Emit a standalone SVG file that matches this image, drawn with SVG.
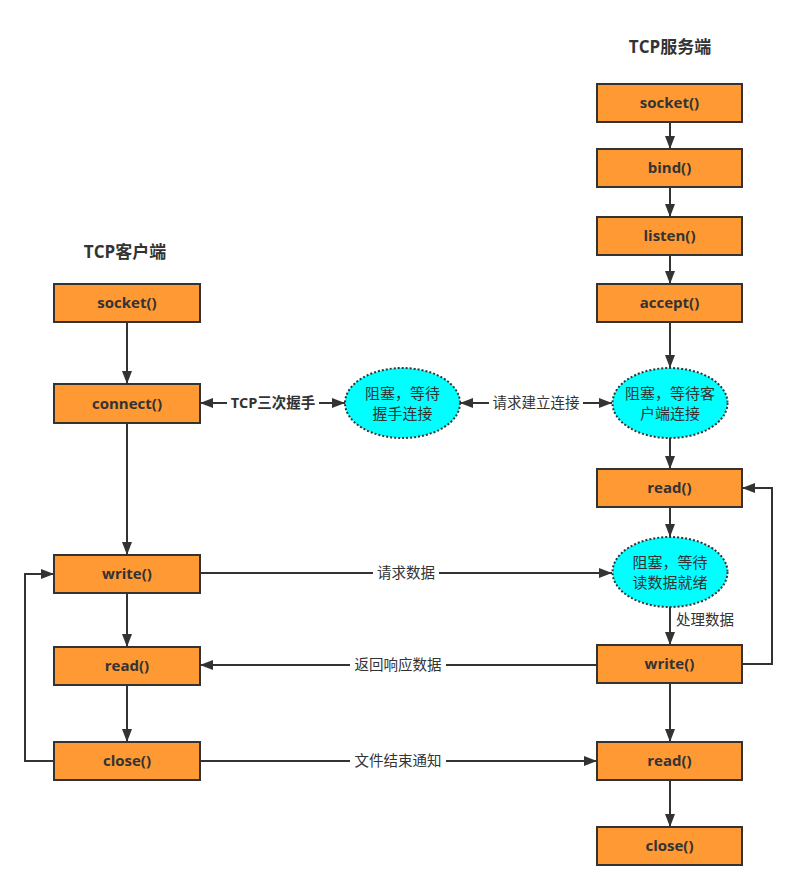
<svg xmlns="http://www.w3.org/2000/svg" width="797" height="890" viewBox="0 0 797 890">
<style>
.box{fill:#FF9933;stroke:#333;stroke-width:2}
.ell{fill:#00FFFF;stroke:#333;stroke-width:2;stroke-dasharray:2 2}
.bt{font-family:"Open Sans","Noto Sans CJK SC",sans-serif;font-weight:bold;font-size:15px;fill:#333;text-anchor:middle}
.title{font-family:"Open Sans","Noto Sans CJK SC",sans-serif;font-weight:bold;font-size:17px;fill:#333;text-anchor:middle}
.et{font-family:"Noto Sans CJK SC",sans-serif;font-size:15px;fill:#333;text-anchor:middle}
.lb{font-family:"Noto Sans CJK SC",sans-serif;font-size:14.5px;fill:#333;text-anchor:middle}
.lbb{font-family:"Open Sans","Noto Sans CJK SC",sans-serif;font-weight:bold;font-size:14.5px;fill:#333;text-anchor:middle}
.c{fill:none;stroke:#333;stroke-width:2}
.bg{fill:#fff}
</style>
<defs>
<marker id="ah" markerUnits="userSpaceOnUse" markerWidth="13" markerHeight="10" refX="13" refY="5" orient="auto-start-reverse">
<path d="M0,0 L13,5 L0,10 z" fill="#333"/>
</marker>
</defs>
<rect width="797" height="890" fill="#fff"/>
<text class="title" x="670" y="53">TCP服务端</text>
<text class="title" x="125" y="258">TCP客户端</text>
<g id="connectors">
<line class="c" x1="670" y1="122" x2="670" y2="149" marker-end="url(#ah)"/>
<line class="c" x1="670" y1="187" x2="670" y2="217" marker-end="url(#ah)"/>
<line class="c" x1="670" y1="255" x2="670" y2="284" marker-end="url(#ah)"/>
<line class="c" x1="670" y1="322" x2="670" y2="368" marker-end="url(#ah)"/>
<line class="c" x1="670" y1="438" x2="670" y2="469" marker-end="url(#ah)"/>
<line class="c" x1="670" y1="507" x2="670" y2="537" marker-end="url(#ah)"/>
<line class="c" x1="670" y1="607" x2="670" y2="645" marker-end="url(#ah)"/>
<line class="c" x1="670" y1="683" x2="670" y2="742" marker-end="url(#ah)"/>
<line class="c" x1="670" y1="780" x2="670" y2="827" marker-end="url(#ah)"/>
<polyline class="c" points="742,664 772,664 772,488 742,488" marker-end="url(#ah)"/>
<line class="c" x1="127" y1="322" x2="127" y2="384" marker-end="url(#ah)"/>
<line class="c" x1="127" y1="423" x2="127" y2="555" marker-end="url(#ah)"/>
<line class="c" x1="127" y1="593" x2="127" y2="647" marker-end="url(#ah)"/>
<line class="c" x1="127" y1="685" x2="127" y2="742" marker-end="url(#ah)"/>
<polyline class="c" points="54,761 25,761 25,574 54,574" marker-end="url(#ah)"/>
<line class="c" x1="200" y1="403" x2="345" y2="403" marker-start="url(#ah)" marker-end="url(#ah)"/>
<line class="c" x1="460" y1="403" x2="612" y2="403" marker-start="url(#ah)" marker-end="url(#ah)"/>
<line class="c" x1="200" y1="573" x2="612" y2="573" marker-end="url(#ah)"/>
<line class="c" x1="597" y1="665" x2="200" y2="665" marker-end="url(#ah)"/>
<line class="c" x1="200" y1="761" x2="597" y2="761" marker-end="url(#ah)"/>
<rect class="bg" x="227" y="393" width="92" height="20"/>
<text class="lbb" x="273" y="408">TCP三次握手</text>
<rect class="bg" x="489" y="393" width="94" height="20"/>
<text class="lb" x="536" y="408">请求建立连接</text>
<rect class="bg" x="373" y="563" width="66" height="20"/>
<text class="lb" x="406" y="578">请求数据</text>
<rect class="bg" x="350" y="655" width="96" height="20"/>
<text class="lb" x="398" y="670">返回响应数据</text>
<rect class="bg" x="350" y="751" width="96" height="20"/>
<text class="lb" x="398" y="766">文件结束通知</text>
<text class="lb" x="705" y="625">处理数据</text>
</g>
<g id="s_socket"><rect class="box" x="597" y="84" width="145" height="38"/><text class="bt" x="669.5" y="108">socket()</text></g>
<g id="s_bind"><rect class="box" x="597" y="149" width="145" height="38"/><text class="bt" x="669.5" y="173">bind()</text></g>
<g id="s_listen"><rect class="box" x="597" y="217" width="145" height="38"/><text class="bt" x="669.5" y="241">listen()</text></g>
<g id="s_accept"><rect class="box" x="597" y="284" width="145" height="38"/><text class="bt" x="669.5" y="308">accept()</text></g>
<g id="s_wait_conn"><ellipse class="ell" cx="670" cy="403" rx="57.5" ry="35"/><text class="et" x="670" y="399">阻塞，等待客</text><text class="et" x="670" y="419">户端连接</text></g>
<g id="s_read"><rect class="box" x="597" y="469" width="145" height="38"/><text class="bt" x="669.5" y="493">read()</text></g>
<g id="s_wait_data"><ellipse class="ell" cx="670" cy="572" rx="57.5" ry="35"/><text class="et" x="670" y="568">阻塞，等待</text><text class="et" x="670" y="588">读数据就绪</text></g>
<g id="s_write"><rect class="box" x="597" y="645" width="145" height="38"/><text class="bt" x="669.5" y="669">write()</text></g>
<g id="s_read2"><rect class="box" x="597" y="742" width="145" height="38"/><text class="bt" x="669.5" y="766">read()</text></g>
<g id="s_close"><rect class="box" x="597" y="827" width="145" height="38"/><text class="bt" x="669.5" y="851">close()</text></g>
<g id="handshake"><ellipse class="ell" cx="402.5" cy="403" rx="57.5" ry="35"/><text class="et" x="402.5" y="399">阻塞，等待</text><text class="et" x="402.5" y="419">握手连接</text></g>
<g id="c_socket"><rect class="box" x="54" y="284" width="146" height="38"/><text class="bt" x="127" y="308">socket()</text></g>
<g id="c_connect"><rect class="box" x="54" y="384" width="146" height="39"/><text class="bt" x="127" y="409">connect()</text></g>
<g id="c_write"><rect class="box" x="54" y="555" width="146" height="38"/><text class="bt" x="127" y="579">write()</text></g>
<g id="c_read"><rect class="box" x="54" y="647" width="146" height="38"/><text class="bt" x="127" y="671">read()</text></g>
<g id="c_close"><rect class="box" x="54" y="742" width="146" height="38"/><text class="bt" x="127" y="766">close()</text></g>
</svg>
